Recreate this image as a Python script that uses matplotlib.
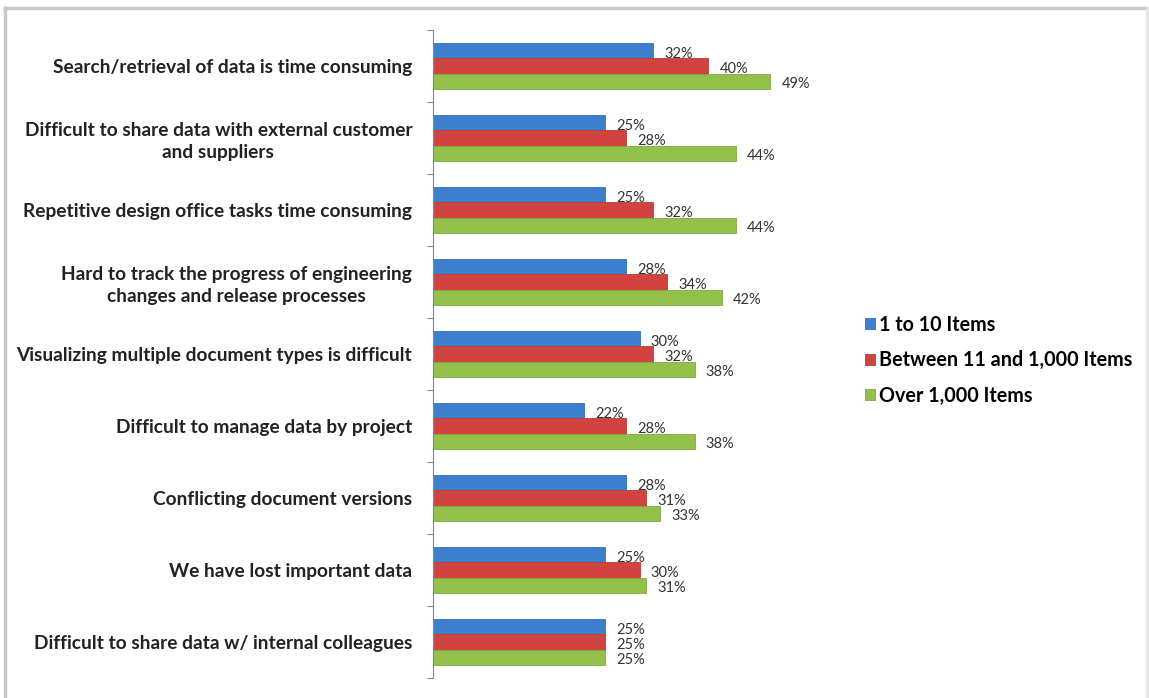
import matplotlib.pyplot as plt
from matplotlib.lines import Line2D
import numpy as np

# DATOS
categories = [
    'Search/retrieval of data is time consuming',
    'Difficult to share data with external customer\nand suppliers',
    'Repetitive design office tasks time consuming',
    'Hard to track the progress of engineering\nchanges and release processes',
    'Visualizing multiple document types is difficult',
    'Difficult to manage data by project',
    'Conflicting document versions',
    'We have lost important data',
    'Difficult to share data w/ internal colleagues',
]
series_names = ['1 to 10 Items', 'Between 11 and 1,000 Items', 'Over 1,000 Items']
small = [32, 25, 25, 28, 30, 22, 28, 25, 25]
medium = [40, 28, 32, 34, 32, 28, 31, 30, 25]
large = [49, 44, 44, 42, 38, 38, 33, 31, 25]

colors = ['#3d7fce', '#d0433f', '#93c04a']
edges = ['#3470b8', '#b83a37', '#80aa3e']

plt.rcParams['font.family'] = ['Lato', 'DejaVu Sans']

fig = plt.figure(figsize=(11.49, 6.98), dpi=100)
ax = fig.add_axes([433 / 1149, 20 / 698, 413 / 1149, 648 / 698])

y = np.arange(len(categories))
h = 0.21
for i, (vals, name) in enumerate(zip([small, medium, large], series_names)):
    pos = y + (i - 1) * h
    ax.barh(pos, vals, height=h, color=colors[i], edgecolor=edges[i], linewidth=0.6, label=name)
    for p, v in zip(pos, vals):
        ax.annotate('%d%%' % v, (v, p), xytext=(8, -2), textcoords='offset points',
                    ha='left', va='center', fontsize=10.5, color='#333333')

ax.set_xlim(0, 60)
ax.set_ylim(len(categories) - 0.5, -0.5)
ax.set_yticks(y)
ax.set_yticklabels(categories, fontsize=13.8, fontweight='bold', multialignment='center',
                   color='#222222', linespacing=1.3)
ax.set_yticks(np.arange(len(categories) + 1) - 0.5, minor=True)
ax.tick_params(axis='y', which='major', length=0, pad=15)
ax.tick_params(axis='y', which='minor', length=4, color='#888888', width=0.8)
ax.set_xticks([])
for s in ['top', 'right', 'bottom']:
    ax.spines[s].set_visible(False)
ax.spines['left'].set_color('#888888')
ax.spines['left'].set_linewidth(0.8)

handles, labels = ax.get_legend_handles_labels()
leg = fig.legend(handles, labels, loc='upper left', bbox_to_anchor=(847 / 1149, 1 - 297 / 698),
                 frameon=False, handlelength=0.5, handleheight=0.5, handletextpad=0.2,
                 labelspacing=0.78, prop={'weight': 'bold', 'size': 14.2})

# MARCO
top = 1 - 8 / 698
fig.add_artist(Line2D([5 / 1149, 5 / 1149], [0, top], transform=fig.transFigure, color='#c8c8c8', lw=2.5))
fig.add_artist(Line2D([5 / 1149, 1147 / 1149], [top, top], transform=fig.transFigure, color='#c8c8c8', lw=2.5))
fig.add_artist(Line2D([1147 / 1149, 1147 / 1149], [0, top], transform=fig.transFigure, color='#e4e4e4', lw=2))

fig.savefig('out.png', dpi=100)
